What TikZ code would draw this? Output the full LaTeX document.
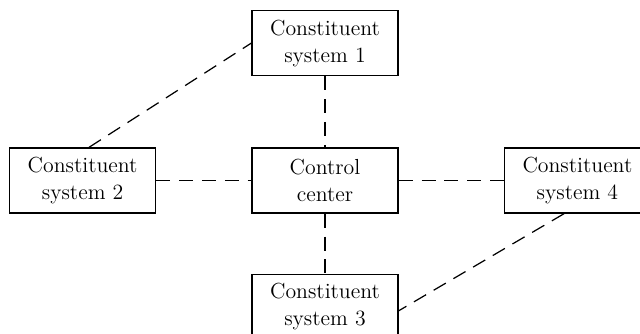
\documentclass[tikz,border=0pt]{standalone}
\usetikzlibrary{positioning}
\begin{document}
\begin{tikzpicture}[
		sysbox/.style={draw, line width=0.8pt,
			minimum width=2.92cm, minimum height=1.3cm, inner sep=1pt,
			align=center, font=\fontsize{12.4}{15.4}\selectfont},
		link/.style={line width=0.7pt, dash pattern=on 8pt off 5pt}
		]
		\useasboundingbox (0,0) rectangle (12.8,-6.66);
		% ── Hub ──
		\node[sysbox] (cc) at (6.5,-3.61) {Control\\center};
		% ── Constituent systems ──
		\node[sysbox, above=1.42cm of cc] (s1) {Constituent\\system 1};
		\node[sysbox, left=1.9cm of cc] (s2) {Constituent\\system 2};
		\node[sysbox, below=1.2cm of cc] (s3) {Constituent\\system 3};
		\node[sysbox, right=2.1cm of cc] (s4) {Constituent\\system 4};
		
		% Links to the hub
		\draw[link] (s1) -- (cc);
		\draw[link] (s2) -- (cc);
		\draw[link] (cc) -- (s3);
		\draw[link] (cc) -- (s4);
		% Links between systems
		\draw[link] (s2.79) -- (s1.west);
		\draw[link] (s4.-112) -- (s3.-3);
	\end{tikzpicture}
\end{document}
